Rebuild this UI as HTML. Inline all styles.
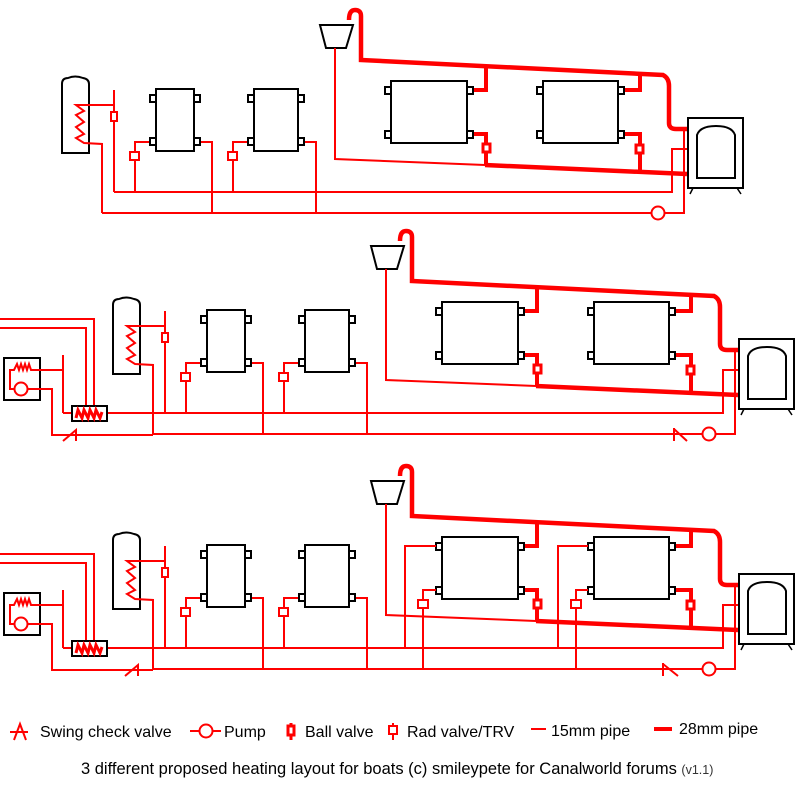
<!DOCTYPE html>
<html><head><meta charset="utf-8"><style>
html,body{margin:0;padding:0;background:#fff;width:800px;height:800px;overflow:hidden}
svg{display:block}
text{font-family:"Liberation Sans",Arial,sans-serif}
</style></head><body>
<svg width="800" height="800" viewBox="0 0 800 800" xmlns="http://www.w3.org/2000/svg">
<defs>
<g id="core" fill="none" stroke-linejoin="miter">
 <path d="M62,153 V84 Q62,78 68,78 Q75,75 83,78 Q89,79 89,84 V153 Z" stroke="#000" stroke-width="2"/>
 <polyline points="114,105 76,105 84,111 76,115 84,122 76,127 84,134 76,138 84,143 102,144 102,213" stroke="#f00" stroke-width="2"/>
 <line x1="114" y1="90" x2="114" y2="192" stroke="#f00" stroke-width="2"/>
 <rect x="111" y="112" width="6" height="9" fill="#fff" stroke="#f00" stroke-width="2"/>
 <polyline points="114,192 672,192 672,149 687,149" stroke="#f00" stroke-width="2"/>
 <polyline points="102,213 684,213 684,128" stroke="#f00" stroke-width="2"/>
 <circle cx="658" cy="213" r="6.5" fill="#fff" stroke="#f00" stroke-width="2"/>
 <polyline points="149,142 135,142 135,192" stroke="#f00" stroke-width="2"/>
 <rect x="130" y="152" width="9" height="8" fill="#fff" stroke="#f00" stroke-width="2"/>
 <polyline points="201,142 212,142 212,213" stroke="#f00" stroke-width="2"/>
 <rect x="156" y="89" width="38" height="62" fill="#fff" stroke="#000" stroke-width="2"/>
 <rect x="150" y="95" width="6" height="7" fill="#fff" stroke="#000" stroke-width="2"/>
 <rect x="150" y="138" width="6" height="7" fill="#fff" stroke="#000" stroke-width="2"/>
 <rect x="194" y="95" width="6" height="7" fill="#fff" stroke="#000" stroke-width="2"/>
 <rect x="194" y="138" width="6" height="7" fill="#fff" stroke="#000" stroke-width="2"/>
 <polyline points="247,142 233,142 233,192" stroke="#f00" stroke-width="2"/>
 <rect x="228" y="152" width="9" height="8" fill="#fff" stroke="#f00" stroke-width="2"/>
 <polyline points="305,142 316,142 316,213" stroke="#f00" stroke-width="2"/>
 <rect x="254" y="89" width="44" height="62" fill="#fff" stroke="#000" stroke-width="2"/>
 <rect x="248" y="95" width="6" height="7" fill="#fff" stroke="#000" stroke-width="2"/>
 <rect x="248" y="138" width="6" height="7" fill="#fff" stroke="#000" stroke-width="2"/>
 <rect x="298" y="95" width="6" height="7" fill="#fff" stroke="#000" stroke-width="2"/>
 <rect x="298" y="138" width="6" height="7" fill="#fff" stroke="#000" stroke-width="2"/>
 <polygon points="320,25 353,25 346,48 326,48" fill="#fff" stroke="#000" stroke-width="2"/>
 <polyline points="335,48 335,159 485,165" stroke="#f00" stroke-width="2"/>
 <path d="M349,20 Q349,10 355,10 Q361,10 361,16 V60 L663,75 Q669,78 669,86 V123 Q669,129 676,129 H687" stroke="#f00" stroke-width="4.5"/>
 <path d="M485,165 L687,174" stroke="#f00" stroke-width="4.5"/>
 <polyline points="474,90 486,90 486,67" stroke="#f00" stroke-width="4"/>
 <polyline points="474,134 486,134 486,165" stroke="#f00" stroke-width="4"/>
 <rect x="483" y="144" width="7" height="8" fill="#fff" stroke="#f00" stroke-width="3"/>
 <polyline points="625,90 640,90 640,74" stroke="#f00" stroke-width="4"/>
 <polyline points="625,134 640,134 640,172" stroke="#f00" stroke-width="4"/>
 <rect x="636" y="145" width="7" height="8" fill="#fff" stroke="#f00" stroke-width="3"/>
 <rect x="391" y="81" width="76" height="62" fill="#fff" stroke="#000" stroke-width="2"/>
 <rect x="385" y="87" width="6" height="7" fill="#fff" stroke="#000" stroke-width="2"/>
 <rect x="385" y="131" width="6" height="7" fill="#fff" stroke="#000" stroke-width="2"/>
 <rect x="467" y="87" width="6" height="7" fill="#fff" stroke="#000" stroke-width="2"/>
 <rect x="467" y="131" width="6" height="7" fill="#fff" stroke="#000" stroke-width="2"/>
 <rect x="543" y="81" width="75" height="62" fill="#fff" stroke="#000" stroke-width="2"/>
 <rect x="537" y="87" width="6" height="7" fill="#fff" stroke="#000" stroke-width="2"/>
 <rect x="537" y="131" width="6" height="7" fill="#fff" stroke="#000" stroke-width="2"/>
 <rect x="618" y="87" width="6" height="7" fill="#fff" stroke="#000" stroke-width="2"/>
 <rect x="618" y="131" width="6" height="7" fill="#fff" stroke="#000" stroke-width="2"/>
 <rect x="688" y="118" width="55" height="70" fill="#fff" stroke="#000" stroke-width="2"/>
 <path d="M697,178 V135 Q700,126 716,126 Q732,126 735,135 V178 Z" stroke="#000" stroke-width="2"/>
 <path d="M693,188 L690,194 M737,188 L741,194" stroke="#000" stroke-width="1.5"/>
</g>
<g id="left" fill="none">
 <rect x="4" y="358" width="36" height="42" fill="#fff" stroke="#000" stroke-width="2"/>
 <polyline points="63,370 31,370 29,364 27,370 25,364 23,370 21,364 19,370 17,364 14,370 10,370 10,389 15,389" stroke="#f00" stroke-width="2"/>
 <circle cx="21" cy="389" r="6.5" fill="#fff" stroke="#f00" stroke-width="2"/>
 <polyline points="28,389 52,389 52,435 153,435" stroke="#f00" stroke-width="2"/>
 <line x1="63" y1="355" x2="63" y2="413" stroke="#f00" stroke-width="2"/>
 <polyline points="63,413 165,413" stroke="#f00" stroke-width="2"/>
 <polyline points="0,319 94,319 94,406" stroke="#f00" stroke-width="2"/>
 <polyline points="0,328 86,328 86,406" stroke="#f00" stroke-width="2"/>
 <rect x="72" y="406" width="35" height="15" fill="#fff" stroke="#000" stroke-width="2"/>
 <polyline points="76,418 78,410 82,418 84,410 88,418 90,410 94,418 96,410 100,418 102,412" stroke="#f00" stroke-width="3"/>
</g>
</defs>

<use href="#core"/>
<use href="#core" transform="translate(51,221)"/>
<use href="#core" transform="translate(51,456)"/>
<use href="#left"/>
<use href="#left" transform="translate(0,235)"/>

<g fill="none" stroke="#f00" stroke-width="2">
 <path d="M63,441 L76,430 V441"/>
 <path d="M674,428 V441 M674,429 L687,441"/>
 <path d="M125,676 L138,665 V676"/>
 <path d="M663,663 V676 M663,664 L678,676"/>
 <polyline points="436,546 405,546 405,648"/>
 <polyline points="436,590 423,590 423,669"/>
 <rect x="418" y="600" width="10" height="8" fill="#fff"/>
 <polyline points="588,546 558,546 558,648"/>
 <polyline points="588,590 576,590 576,669"/>
 <rect x="571" y="600" width="10" height="8" fill="#fff"/>
</g>

<g fill="none" stroke="#f00" stroke-width="2">
 <path d="M10,732 H28 M14,740 L20,724 L26,740"/>
 <path d="M190,731 H199 M213,731 H221"/><circle cx="206" cy="731" r="6.5" fill="#fff"/>
 <line x1="291" y1="723" x2="291" y2="740" stroke-width="3"/><rect x="288" y="726" width="6" height="9" fill="#fff" stroke-width="3"/>
 <line x1="393" y1="723" x2="393" y2="740"/><rect x="389" y="726" width="8" height="8" fill="#fff"/>
 <line x1="531" y1="729" x2="546" y2="729"/>
 <line x1="654" y1="729" x2="672" y2="729" stroke-width="4"/>
</g>
<g font-size="16" fill="#000">
 <text x="40" y="737">Swing check valve</text>
 <text x="224" y="737">Pump</text>
 <text x="305" y="737">Ball valve</text>
 <text x="407" y="737">Rad valve/TRV</text>
 <text x="551" y="736">15mm pipe</text>
 <text x="679" y="734">28mm pipe</text>
 <text x="81" y="774" font-size="16.5">3 different proposed heating layout for boats (c) smileypete for Canalworld forums <tspan font-size="12.5" fill="#333">(v1.1)</tspan></text>
</g>
</svg>
</body></html>
